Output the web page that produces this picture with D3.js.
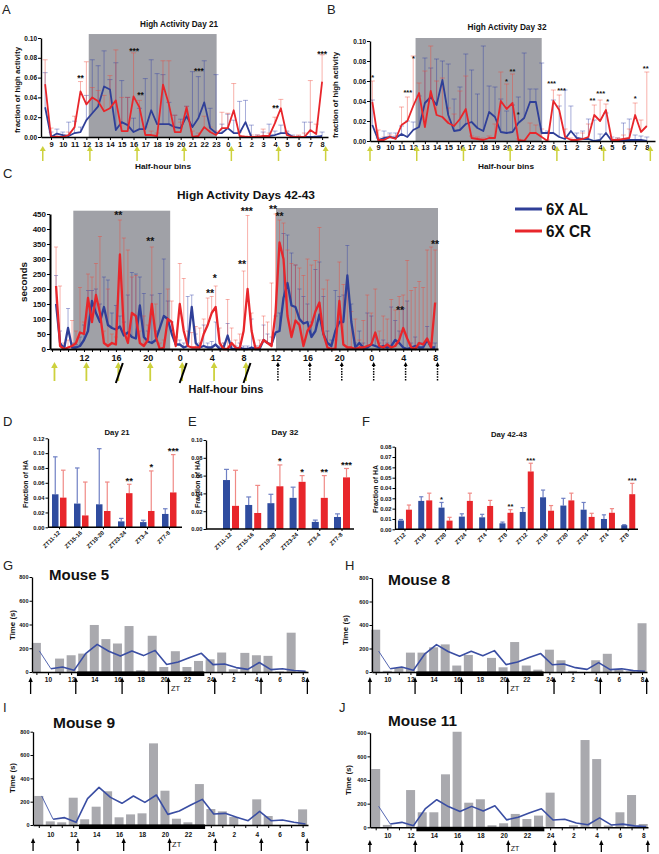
<!DOCTYPE html>
<html><head><meta charset="utf-8">
<script src="https://cdn.jsdelivr.net/npm/d3@7"></script>
<style>body{margin:0;background:#fff}svg{display:block}text{font-family:"Liberation Sans",Arial,Helvetica,sans-serif}</style>
</head><body><svg id="c" width="659" height="854"></svg>
<script>
// ---------------- DATA ----------------
const binsAB = [8.5,9,9.5,10,10.5,11,11.5,12,12.5,13,13.5,14,14.5,15,15.5,16,16.5,17,17.5,18,18.5,19,19.5,20,20.5,21,21.5,22,22.5,23,23.5,24,24.5,25,25.5,26,26.5,27,27.5,28,28.5,29,29.5,30,30.5,31,31.5,32];
const hourTicksAB = [9,10,11,12,13,14,15,16,17,18,19,20,21,22,23,24,25,26,27,28,29,30,31,32];

const aRed = [0.0535,0,0,0,0.002,0.010,0.046,0.033,0.040,0.036,0.026,0.029,0.037,0.006,0.006,0.041,0.030,0.002,0.002,0.001,0.053,0.033,0.005,0.005,0.030,0,0.001,0.010,0.005,0.002,0.009,0.009,0.027,0.001,0,0,0,0.001,0.001,0.014,0.029,0.002,0,0,0,0.007,0.003,0.056];
const aRedErr = [0.078,0.009,0.002,0.002,0.005,0.021,0.056,0.076,0.050,0.047,0.042,0.062,0.088,0.040,0.040,0.085,0.037,0.010,0.006,0.004,0.077,0.077,0.022,0.015,0.031,0.006,0.004,0.021,0.010,0.006,0.025,0.024,0.054,0.005,0.001,0.002,0.002,0.008,0.004,0.020,0.038,0.005,0.001,0.002,0.004,0.057,0.013,0.083];
const aBlue = [0.030,0,0.0035,0.002,0.001,0.004,0.005,0.017,0.024,0.031,0.051,0.048,0.007,0.015,0.012,0.005,0.008,0.008,0.027,0.013,0.013,0.013,0.010,0.009,0.021,0.010,0.019,0.035,0.009,0.004,0.004,0.009,0.004,0.004,0.015,0,0,0,0.001,0.002,0.004,0.004,0,0,0,0,0,0.001];
const aBlueErr = [0.065,0.005,0.008,0.005,0.015,0.016,0.010,0.042,0.078,0.072,0.087,0.058,0.075,0.057,0.040,0.019,0.029,0.059,0.078,0.064,0.063,0.035,0.022,0.018,0.031,0.066,0.061,0.077,0.029,0.063,0.013,0.023,0.017,0.036,0.037,0.012,0.002,0.005,0.013,0.006,0.012,0.006,0.002,0.001,0.015,0.015,0.001,0.005];
const aStars = [[11.5,0.061,"**"],[16.05,0.089,"***"],[16.6,0.0445,"**"],[21.55,0.068,"***"],[28.05,0.031,"**"],[32,0.086,"***"]];

const bRed = [0.039,0.001,0.001,0.004,0.002,0.016,0.020,0.035,0.048,0.014,0.050,0.026,0.024,0.018,0.015,0.022,0.032,0.003,0.002,0.001,0.003,0.003,0.040,0.032,0.038,0.001,0,0.008,0.008,0.004,0,0.040,0.031,0.004,0.001,0.001,0.002,0.004,0.026,0.020,0.031,0.001,0.001,0.002,0.003,0.026,0.009,0.015];
const bRedErr = [0.060,0.011,0.004,0.006,0.005,0.034,0.044,0.085,0.058,0.070,0.095,0.060,0.063,0.033,0.027,0.050,0.065,0.005,0.004,0.003,0.005,0.017,0.069,0.057,0.067,0.002,0.001,0.018,0.016,0.012,0.001,0.051,0.046,0.012,0.003,0.003,0.008,0.017,0.036,0.041,0.037,0.002,0.003,0.006,0.012,0.038,0.021,0.069];
const bBlue = [0.016,0.001,0.003,0.004,0.003,0.007,0.004,0.011,0.014,0.038,0.044,0.036,0.061,0.026,0.010,0.011,0.017,0.019,0.013,0.010,0.029,0.024,0.009,0.008,0.009,0.018,0.023,0.039,0.039,0.008,0.008,0.008,0.004,0.002,0.010,0.003,0.002,0.002,0,0.001,0.008,0,0,0.001,0.001,0.001,0.001,0];
const bBlueErr = [0.041,0.003,0.010,0.008,0.008,0.015,0.020,0.019,0.045,0.083,0.073,0.082,0.080,0.077,0.042,0.054,0.087,0.071,0.047,0.095,0.055,0.054,0.042,0.030,0.036,0.044,0.088,0.052,0.052,0.078,0.010,0.041,0.035,0.051,0.035,0.008,0.010,0.022,0.021,0.007,0.028,0.004,0.003,0.018,0.022,0.006,0.005,0.004];
const bStars = [[8.53,0.065,"*"],[11.54,0.050,"***"],[12.02,0.084,"*"],[19.99,0.061,"*"],[20.5,0.071,"**"],[20.98,0.028,"*"],[23.85,0.059,"***"],[24.7,0.052,"***"],[27.35,0.042,"**"],[28.05,0.049,"***"],[28.65,0.041,"*"],[31.0,0.044,"*"],[31.9,0.074,"**"]];

const binsC = [8.5,9,9.5,10,10.5,11,11.5,12,12.5,13,13.5,14,14.5,15,15.5,16,16.5,17,17.5,18,18.5,19,19.5,20,20.5,21,21.5,22,22.5,23,23.5,24,24.5,25,25.5,26,26.5,27,27.5,28,28.5,29,29.5,30,30.5,31,31.5,32,32.5,33,33.5,34,34.5,35,35.5,36,36.5,37,37.5,38,38.5,39,39.5,40,40.5,41,41.5,42,42.5,43,43.5,44,44.5,45,45.5,46,46.5,47,47.5,48,48.5,49,49.5,50,50.5,51,51.5,52,52.5,53,53.5,54,54.5,55,55.5,56];
const hourTicksC = [8,9,10,11,12,13,14,15,16,17,18,19,20,21,22,23,24,25,26,27,28,29,30,31,32,33,34,35,36,37,38,39,40,41,42,43,44,45,46,47,48,49,50,51,52,53,54,55,56];
const cRed = [210,10,0,5,10,20,55,50,170,90,180,120,20,10,20,15,315,60,20,120,110,20,10,30,150,40,0,5,100,90,10,150,60,10,5,5,5,50,80,120,140,20,0,0,20,5,0,60,200,60,0,5,30,20,10,120,355,300,110,40,95,80,10,60,80,125,155,50,5,0,0,160,15,5,5,0,5,5,10,15,55,10,5,15,5,10,30,70,35,5,0,20,15,35,5,155];
const cRedErr = [340,210,20,30,95,60,205,90,250,240,285,375,60,200,50,40,430,370,330,240,245,60,110,80,340,150,20,30,200,160,40,285,235,60,55,75,70,100,170,175,210,70,20,165,70,30,50,260,445,120,10,30,110,90,220,450,430,420,330,285,280,270,245,300,280,295,405,200,230,20,30,290,215,200,125,100,30,95,180,120,200,60,110,100,165,130,175,180,295,195,205,225,205,330,340,330];
const cBlue = [150,20,0,70,5,5,10,30,60,160,120,90,140,80,70,65,75,45,55,40,35,145,40,25,20,30,70,110,100,50,15,15,5,10,140,20,5,10,5,5,15,0,5,45,0,0,5,0,0,5,0,0,30,20,15,55,60,170,220,145,140,100,85,90,40,60,115,50,20,10,60,90,90,245,90,5,20,5,5,15,10,5,10,5,10,30,20,5,0,5,10,5,5,30,5,5];
const cBlueErr = [245,60,10,135,20,15,40,80,195,195,200,150,240,230,120,145,110,90,180,255,250,240,185,60,180,60,185,300,160,90,40,30,20,175,180,50,20,80,20,25,90,10,20,85,10,10,20,10,10,100,10,10,80,50,40,110,120,385,380,320,280,200,175,150,90,265,290,175,60,30,195,175,180,345,150,20,60,20,120,110,40,20,30,20,140,95,60,135,160,20,40,20,20,75,20,20];
const cStars = [[16.3,452,"**"],[20.3,367,"**"],[27.8,193,"**"],[28.4,241,"*"],[31.8,289,"**"],[32.4,467,"***"],[35.7,471,"**"],[36.5,449,"**"],[51.6,136,"**"],[56,356,"**"]];
const cYellowArrows = [8.3,12.3,16.3,20.3,24.3,28.3,32.3];
const cSlashed = [16.3,24.3,32.3];
const cDottedArrows = [36.3,40.3,44.3,48.3,52.3,56.3];
const abYellowArrows = [8.3,12.3,16.3,20.3,24.3,28.3,32.3];

const legendNames = ["6X AL","6X CR"];

const ztCats = ["ZT11-12","ZT15-16","ZT19-20","ZT23-24","ZT3-4","ZT7-8"];
const dBlue = [0.0445,0.032,0.031,0.008,0.007,0.018];
const dBlueErr = [0.095,0.080,0.106,0.012,0.0095,0.025];
const dRed = [0.040,0.016,0.022,0.046,0.022,0.047];
const dRedErr = [0.077,0.061,0.061,0.058,0.076,0.098];
const dStars = ["","","","**","*","***"];

const eBlue = [0.055,0.027,0.029,0.035,0.008,0.0135];
const eBlueErr = [0.067,0.036,0.039,0.047,0.010,0.017];
const eRed = [0.026,0.018,0.048,0.053,0.035,0.058];
const eRedErr = [0.066,0.049,0.072,0.060,0.060,0.068];
const eStars = ["","","*","*","**","***"];

const fCats = ["ZT12","ZT16","ZT20","ZT24","ZT4","ZT8","ZT12","ZT16","ZT20","ZT24","ZT4","ZT8"];
const fBlue = [0.0085,0.0275,0.021,0.0123,0.0116,0.0058,0.0168,0.031,0.023,0.019,0.010,0.004];
const fBlueErr = [0.0095,0.0315,0.026,0.015,0.0145,0.007,0.021,0.038,0.030,0.026,0.014,0.0045];
const fRed = [0.019,0.028,0.0084,0.0275,0.0226,0.016,0.056,0.018,0.028,0.012,0.016,0.034];
const fRedErr = [0.0235,0.035,0.0116,0.035,0.028,0.019,0.064,0.023,0.035,0.0155,0.020,0.0445];
const fBlueStars = ["","","*","","","","","","","","",""];
const fRedStars = ["","","","","","**","***","","","","","***"];

const mouseHours = [9,10,11,12,13,14,15,16,17,18,19,20,21,22,23,24,25,26,27,28,29,30,31,32];
const mouseLineHours = [9.25,10.25,11.25,12.25,13.25,14.25,15.25,16.25,17.25,18.25,19.25,20.25,21.25,22.25,23.25,24.25,25.25,26.25,27.25,28.25,29.25,30.25,31.25,32.25];
const mouseXTicks = [10,12,14,16,18,20,22,24,26,28,30,32];
const mouse5 = [245,0,113,141,155,396,277,240,387,15,305,42,175,42,93,107,164,23,161,141,136,5,331,5];
const mouse8 = [360,10,35,165,165,210,235,55,145,0,120,40,255,55,20,190,100,10,0,100,155,20,5,415];
const mouse9 = [249,31,23,234,49,157,289,66,91,100,700,294,54,23,351,137,117,70,0,220,77,0,0,134];
const mouse11 = [493,20,0,315,127,127,448,808,208,237,17,34,113,70,99,293,0,17,738,577,15,127,273,28];
const avgLine = [178,28,42,14,155,233,175,134,177,138,182,63,85,123,157,62,68,37,22,80,20,27,12,6];
const avgLine9 = [249,49,63,23,226,323,237,186,249,194,257,91,120,171,220,94,100,66,37,117,37,43,23,9];
const mouseArrows = [8.5,12.4,16.4,20.4,24.4,28.4,32.4];

// ---------------- STYLE ----------------
const RED="#e8262b", BLUE="#2f3f98", RED_E="rgba(238,70,55,0.42)", BLUE_E="rgba(45,60,165,0.42)";
const SHADE="#a0a1a7", YEL="#cdd13d", BAR_B="#2f4c9f", BAR_R="#e8262b", BAR_BE="#6f80c4", BAR_RE="#f08a86";
const FONT="Liberation Sans, Arial, sans-serif";
const svg = d3.select("#c");
svg.append("rect").attr("width",659).attr("height",854).attr("fill","#fff");

function txt(x,y,s,fs,opt={}){
  const t = svg.append("text").attr("x",x).attr("y",y).text(s).attr("font-size",fs)
    .attr("font-weight",opt.w||"bold").attr("text-anchor",opt.a||"start").attr("fill",opt.c||"#111");
  if(opt.len) t.attr("textLength",opt.len).attr("lengthAdjust","spacingAndGlyphs");
  if(opt.rot) t.attr("transform",`rotate(-90,${x},${y})`);
  return t;
}
function styleAxis(g,fs,sw){
  g.attr("font-size",fs).attr("font-weight","bold").attr("font-family",FONT);
  g.selectAll("text").attr("fill","#111");
  g.select(".domain").attr("stroke","#000").attr("stroke-width",sw);
  g.selectAll(".tick line").attr("stroke","#000").attr("stroke-width",1);
}
function upArrow(x,yTop,yBot,color,hw,hh,sw,dash){
  svg.append("line").attr("x1",x).attr("x2",x).attr("y1",yTop+hh-0.5).attr("y2",yBot)
    .attr("stroke",color).attr("stroke-width",sw).attr("stroke-dasharray",dash||null);
  svg.append("path").attr("d",`M${x},${yTop}L${x-hw},${yTop+hh}L${x+hw},${yTop+hh}Z`).attr("fill",color);
}

// ---------------- LINE PANELS (A,B,C) ----------------
function linePanel(o){
  const x = d3.scaleLinear().domain(o.xDomain).range(o.xRange);
  const y = d3.scaleLinear().domain([0,o.yMax]).range([o.y0,o.yTop]);
  const g = svg.append("g");
  o.shade.forEach(s=>g.append("rect").attr("x",x(s[0])).attr("width",x(s[1])-x(s[0]))
      .attr("y",y(s[2])).attr("height",y(0)-y(s[2])).attr("fill",SHADE));
  [[o.blue,o.blueErr,BLUE_E],[o.red,o.redErr,RED_E]].forEach(([v,e,c])=>{
    const eg = g.append("g").attr("stroke",c).attr("stroke-width",1);
    o.bins.forEach((b,i)=>{
      if(e[i]<=v[i]) return;
      eg.append("line").attr("x1",x(b)).attr("x2",x(b)).attr("y1",y(v[i])).attr("y2",y(e[i]));
      eg.append("line").attr("x1",x(b)-o.cap).attr("x2",x(b)+o.cap).attr("y1",y(e[i])).attr("y2",y(e[i]));
    });
  });
  const ln = d3.line().x((d,i)=>x(o.bins[i])).y(d=>y(d));
  g.append("path").datum(o.blue).attr("d",ln).attr("fill","none").attr("stroke",BLUE).attr("stroke-width",o.lw).attr("stroke-linejoin","round");
  g.append("path").datum(o.red).attr("d",ln).attr("fill","none").attr("stroke",RED).attr("stroke-width",o.lw).attr("stroke-linejoin","round");
  const ya = g.append("g").attr("transform",`translate(${o.xRange[0]},0)`)
    .call(d3.axisLeft(y).tickValues(o.yTicks).tickFormat(o.yFmt).tickSize(3).tickSizeOuter(0).tickPadding(1));
  styleAxis(ya,o.yfs,o.asw);
  const xa = g.append("g").attr("transform",`translate(0,${o.y0})`)
    .call(d3.axisBottom(x).tickValues(o.xTicks).tickFormat(o.xFmt).tickSize(3).tickSizeOuter(0).tickPadding(o.xpad));
  styleAxis(xa,o.xfs,o.asw);
  o.stars.forEach(s=>g.append("text").attr("x",x(s[0])).attr("y",y(s[1])+o.sfs*0.55).attr("text-anchor","middle")
      .attr("font-size",o.sfs).attr("font-weight","bold").attr("fill","#111").text(s[2]));
  return x;
}

const xA = linePanel({xDomain:[8.15,32.5],xRange:[41,328],yMax:0.10,y0:137,yTop:38,bins:binsAB,
  red:aRed,redErr:aRedErr,blue:aBlue,blueErr:aBlueErr,shade:[[12.2,23.05,0.104]],cap:2.5,lw:1.8,
  yTicks:[0,0.02,0.04,0.06,0.08,0.10],yFmt:d3.format(".2f"),yfs:6.5,xTicks:hourTicksAB,xFmt:h=>h%24,xfs:7.5,xpad:2,asw:1.4,
  stars:aStars,sfs:8.5});
const xB = linePanel({xDomain:[8.3,32.7],xRange:[370,655],yMax:0.10,y0:141,yTop:41,bins:binsAB,
  red:bRed,redErr:bRedErr,blue:bBlue,blueErr:bBlueErr,shade:[[12.2,23.0,0.103]],cap:2.5,lw:1.8,
  yTicks:[0,0.02,0.04,0.06,0.08,0.10],yFmt:d3.format(".2f"),yfs:6.5,xTicks:hourTicksAB,xFmt:h=>h%24,xfs:7.5,xpad:0.5,asw:1.4,
  stars:bStars,sfs:7.5});
const xC = linePanel({xDomain:[7.74,56.36],xRange:[50,438],yMax:450,y0:349,yTop:214,bins:binsC,
  red:cRed,redErr:cRedErr,blue:cBlue,blueErr:cBlueErr,shade:[[10.66,22.8,461],[36.06,56.36,470]],cap:2,lw:2.3,
  yTicks:[0,50,100,150,200,250,300,350,400,450],yFmt:d3.format("d"),yfs:8,xTicks:hourTicksC,
  xFmt:h=>(h>=12&&h%4===0)?h%24:"",xfs:9,xpad:3,asw:2,stars:cStars,sfs:10.5});

// arrows A,B
abYellowArrows.forEach(h=>{ upArrow(xA(h),146,161,YEL,3,5,1.5); upArrow(xB(h),146,161,YEL,3,5,1.5); });
// arrows C
cYellowArrows.forEach(h=>upArrow(xC(h),362,381,YEL,3.3,6,1.8));
cSlashed.forEach(h=>svg.append("line").attr("x1",xC(h)-2.5).attr("y1",383).attr("x2",xC(h)+4.5).attr("y2",363).attr("stroke","#000").attr("stroke-width",2));
cDottedArrows.forEach(h=>upArrow(xC(h),362,381,"#000",2,4,1.5,"1.5,1.2"));

// titles / labels A,B,C
txt(2,14,"A",13,{w:"normal",c:"#222"});
txt(327,14,"B",13,{w:"normal",c:"#222"});
txt(3,178,"C",13,{w:"normal",c:"#222"});
txt(179,27,"High Activity Day 21",9.5,{a:"middle",len:78});
txt(507,30,"High Activity Day 32",9.5,{a:"middle",len:79});
txt(246,199,"High Activity Days 42-43",11.5,{a:"middle",len:138});
txt(163,169,"Half-hour bins",8,{a:"middle",len:56});
txt(506,169,"Half-hour bins",8,{a:"middle",len:56});
txt(226,393,"Half-hour bins",10.5,{a:"middle",len:75});
txt(20,90,"fraction of high activity",8,{a:"middle",rot:true,len:86});
txt(338,95,"fraction of high activity",8,{a:"middle",rot:true,len:86});
txt(27,282,"seconds",9.5,{a:"middle",rot:true,len:40});

// legend
[[BLUE,209],[RED,231]].forEach(([c,yy],i)=>{
  svg.append("line").attr("x1",515).attr("x2",542).attr("y1",yy).attr("y2",yy).attr("stroke",c).attr("stroke-width",3);
  txt(546,yy+6,legendNames[i],16,{len:i?45:42});
});

// ---------------- BAR PANELS (D,E,F) ----------------
function barPanel(o){
  const n = o.cats.length;
  const x = d3.scaleBand().domain(d3.range(n)).range(o.range);
  const y = d3.scaleLinear().domain([0,o.yMax]).range([o.y0,o.yTop]);
  const g = svg.append("g");
  const c = i => x(i)+x.bandwidth()/2;
  const series = [[o.blue,o.blueErr,BAR_B,BAR_BE,o.bOff,o.bStars],[o.red,o.redErr,BAR_R,BAR_RE,o.rOff,o.rStars]];
  series.forEach(([v,e,col,ecol,off,st])=>{
    v.forEach((d,i)=>{
      const bx = c(i)+off, cx = bx+o.bw/2;
      g.append("line").attr("x1",cx).attr("x2",cx).attr("y1",y(d)).attr("y2",y(e[i])).attr("stroke",ecol).attr("stroke-width",1.2);
      g.append("line").attr("x1",cx-o.bw*0.35).attr("x2",cx+o.bw*0.35).attr("y1",y(e[i])).attr("y2",y(e[i])).attr("stroke",ecol).attr("stroke-width",1.2);
      g.append("rect").attr("x",bx).attr("width",o.bw).attr("y",y(d)).attr("height",y(0)-y(d)).attr("fill",col);
      if(st[i]) g.append("text").attr("x",cx).attr("y",y(e[i])-o.sfs*0.05).attr("text-anchor","middle")
        .attr("font-size",o.sfs).attr("font-weight","bold").attr("fill","#111").text(st[i]);
    });
  });
  const ya = g.append("g").attr("transform",`translate(${o.axisX},0)`)
    .call(d3.axisLeft(y).tickValues(o.yTicks).tickFormat(d3.format(".2f")).tickSize(2.5).tickSizeOuter(0).tickPadding(1));
  styleAxis(ya,5.8,1.3);
  g.append("line").attr("x1",o.axisX).attr("x2",o.xEnd).attr("y1",o.y0).attr("y2",o.y0).attr("stroke","#000").attr("stroke-width",1.5);
  o.cats.forEach((s,i)=>{
    g.append("line").attr("x1",c(i)).attr("x2",c(i)).attr("y1",o.y0).attr("y2",o.y0+2).attr("stroke","#000");
    g.append("text").attr("x",c(i)+1).attr("y",o.y0+6).attr("text-anchor","end").attr("font-size",5.8)
      .attr("font-weight","bold").attr("fill","#111").attr("transform",`rotate(-45,${c(i)+1},${o.y0+6})`).text(s);
  });
}
barPanel({cats:ztCats,range:[48.5,180.5],y0:527.3,yTop:438.3,yMax:0.12,yTicks:[0,0.02,0.04,0.06,0.08,0.10,0.12],
  axisX:48,xEnd:182,blue:dBlue,blueErr:dBlueErr,red:dRed,redErr:dRedErr,bOff:-7.5,rOff:0.5,bw:6.5,
  bStars:["","","","","",""],rStars:dStars,sfs:9.5});
barPanel({cats:ztCats,range:[219.9,353.1],y0:529,yTop:440,yMax:0.10,yTicks:[0,0.02,0.04,0.06,0.08,0.10],
  axisX:206,xEnd:354,blue:eBlue,blueErr:eBlueErr,red:eRed,redErr:eRedErr,bOff:-8,rOff:1,bw:7,
  bStars:["","","","","",""],rStars:eStars,sfs:9.5});
barPanel({cats:fCats,range:[394.8,638.4],y0:529.3,yTop:446.7,yMax:0.08,yTicks:[0,0.01,0.02,0.03,0.04,0.05,0.06,0.07,0.08],
  axisX:395,xEnd:638,blue:fBlue,blueErr:fBlueErr,red:fRed,redErr:fRedErr,bOff:-7,rOff:1,bw:6,
  bStars:fBlueStars,rStars:fRedStars,sfs:7.5});
txt(3,426,"D",13,{w:"normal",c:"#222"});
txt(188,426,"E",13,{w:"normal",c:"#222"});
txt(362,426,"F",13,{w:"normal",c:"#222"});
txt(117,435,"Day 21",8,{a:"middle",len:25});
txt(285,435,"Day 32",8,{a:"middle",len:27});
txt(509,437,"Day 42-43",8,{a:"middle",len:36});
txt(28,484,"Fraction of HA",7.5,{a:"middle",rot:true,len:48});
txt(200,484,"Fraction of HA",7.5,{a:"middle",rot:true,len:48});
txt(378,489,"Fraction of  HA",7.5,{a:"middle",rot:true,len:48});

// ---------------- MOUSE PANELS (G-J) ----------------
function mousePanel(o){
  const x = d3.scaleLinear().domain([9,32]).range([o.x9,o.x9+23*o.step]);
  const y = d3.scaleLinear().domain([0,800]).range([o.y0,o.y800]);
  const g = svg.append("g");
  o.bars.forEach((v,i)=>{ if(v>0) g.append("rect").attr("x",x(mouseHours[i])-4.5).attr("width",9)
      .attr("y",y(v)).attr("height",y(0)-y(v)).attr("fill","#a9a9ae"); });
  const pts = o.line.map((v,i)=>[x(mouseLineHours[i]),y(v)]);
  const ln = d3.line();
  g.append("path").attr("d",ln(pts.slice(0,2))).attr("fill","none").attr("stroke","#4256a8").attr("stroke-width",0.9);
  g.append("path").attr("d",ln(pts.slice(1))).attr("fill","none").attr("stroke","#3a4ea3").attr("stroke-width",1.6).attr("stroke-linejoin","round");
  const ya = g.append("g").attr("transform",`translate(${o.axisX},0)`)
    .call(d3.axisLeft(y).tickValues([0,200,400,600,800]).tickSize(2.5).tickSizeOuter(0).tickPadding(1));
  styleAxis(ya,5.5,1.3);
  const xs = d3.scaleLinear().domain([x.invert(o.axisX),x.invert(o.xEnd)]).range([o.axisX,o.xEnd]);
  const xa = g.append("g").attr("transform",`translate(0,${o.y0})`)
    .call(d3.axisBottom(xs).tickValues(mouseHours).tickFormat(h=>mouseXTicks.includes(h)?(h<=24?h:h-24):"")
      .tickSize(3).tickSizeOuter(0).tickPadding(o.xpad));
  styleAxis(xa,6.5,1.5);
  g.append("rect").attr("x",x(12.5)).attr("width",x(23.5)-x(12.5)).attr("y",o.y0-0.5).attr("height",4.5).attr("fill","#000");
  mouseArrows.forEach(h=>upArrow(x(h),o.arTop,o.arBot,"#000",2.2,5,1.3));
  txt(x(20.4)+2.5,o.ztY,"ZT",o.ztFs||7.5,{w:"normal"});
  txt(o.tx,o.ty,o.title,15,{len:o.tlen});
  txt(o.labX,o.labY,"Time (s)",6.5,{a:"middle",rot:true,len:30});
  txt(o.lx,o.ly,o.letter,13,{w:"normal",c:"#222"});
}
mousePanel({x9:36.4,step:11.58,y0:672,y800:577,axisX:32,xEnd:308,bars:mouse5,line:avgLine,xpad:2.4,
  arTop:677,arBot:694,ztY:691,title:"Mouse 5",tx:49,ty:580,tlen:60,labX:14.5,labY:625,letter:"G",lx:3,ly:570});
mousePanel({x9:375.7,step:11.58,y0:672,y800:578,axisX:372,xEnd:647,bars:mouse8,line:avgLine,xpad:2.4,
  arTop:677,arBot:694,ztY:691,title:"Mouse 8",tx:388,ty:585,tlen:62,labX:347.5,labY:630,letter:"H",lx:345,ly:570});
mousePanel({x9:38.8,step:11.47,y0:825,y800:731.7,axisX:33,xEnd:308,bars:mouse9,line:avgLine9,xpad:4.4,
  arTop:838,arBot:851,ztY:847,title:"Mouse 9",tx:53,ty:728,tlen:62,labX:14.5,labY:778,letter:"I",lx:3,ly:712});
mousePanel({x9:375.7,step:11.63,y0:827.3,y800:732.7,axisX:370,xEnd:648,bars:mouse11,line:avgLine,xpad:3.4,
  arTop:840,arBot:852,ztY:851,ztFs:7,title:"Mouse 11",tx:388,ty:726,tlen:69,labX:350.5,labY:780,letter:"J",lx:339,ly:712});
</script></body></html>
